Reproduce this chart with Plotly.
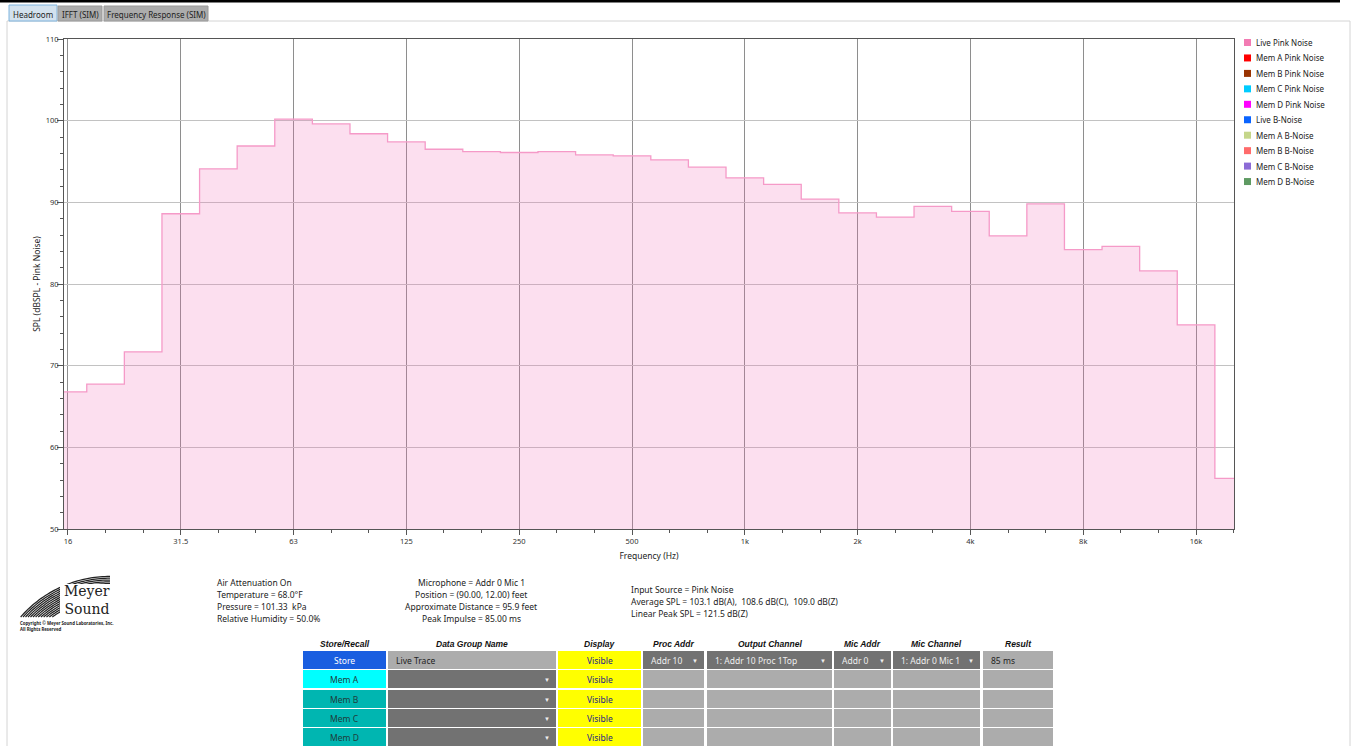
import math
import plotly.graph_objects as go

W, H = 1355, 746

# ---------------- data ----------------
band_labels = ["16", "20", "25", "31.5", "40", "50", "63", "80", "100", "125", "160", "200",
               "250", "315", "400", "500", "630", "800", "1k", "1.25k", "1.6k", "2k", "2.5k",
               "3.15k", "4k", "5k", "6.3k", "8k", "10k", "12.5k", "16k", "20k"]
band_index = list(range(-18, 14))          # 1/3-octave band numbers relative to 1 kHz
spl_db = [66.8, 67.75, 71.7, 88.6, 94.1, 96.9, 100.2, 99.6, 98.4, 97.4, 96.5, 96.2,
          96.1, 96.2, 95.8, 95.7, 95.2, 94.3, 93.0, 92.2, 90.4, 88.7, 88.2,
          89.5, 88.9, 85.9, 89.8, 84.2, 84.6, 81.6, 75.0, 56.2]
major_labels = ["16", "31.5", "63", "125", "250", "500", "1k", "2k", "4k", "8k", "16k"]
major_octaves = list(range(-6, 5))

legend_names = ["Live Pink Noise", "Mem A Pink Noise", "Mem B Pink Noise", "Mem C Pink Noise",
                "Mem D Pink Noise", "Live B-Noise", "Mem A B-Noise", "Mem B B-Noise",
                "Mem C B-Noise", "Mem D B-Noise"]
legend_colors = ["#f27bb3", "#ff0000", "#993300", "#00ccff", "#ff00ff", "#0a64ff",
                 "#c5d68a", "#ff6b6b", "#8c6bd6", "#5e9a62"]

env_lines = ["Air Attenuation On", "Temperature = 68.0°F", "Pressure = 101.33  kPa",
             "Relative Humidity = 50.0%"]
mic_lines = ["Microphone = Addr 0 Mic 1", "Position = (90.00, 12.00) feet",
             "Approximate Distance = 95.9 feet", "Peak Impulse = 85.00 ms"]
src_lines = ["Input Source = Pink Noise",
             "Average SPL = 103.1 dB(A),  108.6 dB(C),  109.0 dB(Z)",
             "Linear Peak SPL = 121.5 dB(Z)"]

table_headers = ["Store/Recall", "Data Group Name", "Display", "Proc Addr", "Output Channel",
                 "Mic Addr", "Mic Channel", "Result"]
store_labels = ["Store", "Mem A", "Mem B", "Mem C", "Mem D"]
row1_values = ["Store", "Live Trace", "Visible", "Addr 10", "1: Addr 10 Proc 1Top",
               "Addr 0", "1: Addr 0 Mic 1", "85 ms"]
tab_labels = ["Headroom", "IFFT (SIM)", "Frequency Response (SIM)"]

# ---------------- derived ----------------
centers = [1000 * 2 ** (n / 3) for n in band_index]
edges = [centers[0] / 2 ** (1 / 6)] + [math.sqrt(a * b) for a, b in zip(centers[:-1], centers[1:])] \
        + [centers[-1] * 2 ** (1 / 6)]
major_vals = [1000 * 2 ** k for k in major_octaves]

FONT = "Noto Sans"


def X(p):
    return p / W


def Y(p):
    return 1 - p / H


fig = go.Figure()
fig.add_trace(go.Scatter(
    x=edges, y=spl_db + [spl_db[-1]], mode="lines",
    line=dict(shape="hv", color="#f59ac8", width=1.3),
    fill="tozeroy", fillcolor="rgba(240,110,180,0.22)",
    showlegend=False, name="Live Pink Noise", hoverinfo="x+y"))

shapes = []
ann = []


def rect(x0, y0, x1, y1, fill, line=None, lw=0):
    shapes.append(dict(type="rect", xref="paper", yref="paper", x0=X(x0), x1=X(x1),
                       y0=Y(y1), y1=Y(y0), fillcolor=fill,
                       line=dict(color=line or fill, width=lw)))


def text(x, y, s, size=8.5, color="#222", anchor="left", bold=False, italic=False,
         family=FONT, bg=None, align="left", pad=1):
    if bold:
        s = "<b>" + s + "</b>"
    if italic:
        s = "<i>" + s + "</i>"
    a = dict(x=X(x), y=Y(y), xref="paper", yref="paper", text=s, showarrow=False,
             xanchor=anchor, yanchor="middle", align=align, borderpad=pad,
             font=dict(size=size, color=color, family=family))
    if bg:
        a["bgcolor"] = bg
    ann.append(a)


# ---- top bar and tabs ----
rect(0, 0, 1340, 2.5, "#000000")
shapes.append(dict(type="line", xref="paper", yref="paper", x0=X(7), x1=X(1350), y0=Y(21), y1=Y(21),
                   line=dict(color="#d4d4d4", width=1)))
shapes.append(dict(type="line", xref="paper", yref="paper", x0=X(7), x1=X(7), y0=Y(21), y1=Y(746),
                   line=dict(color="#d4d4d4", width=1)))
shapes.append(dict(type="line", xref="paper", yref="paper", x0=X(1350), x1=X(1350), y0=Y(21), y1=Y(746),
                   line=dict(color="#d4d4d4", width=1)))
tab_x = [(9, 57), (58, 102), (104, 208)]
for i, (lab, (a, b)) in enumerate(zip(tab_labels, tab_x)):
    if i == 0:
        rect(a, 5, b, 21, "#d3e2ee", "#7fb4de", 1)
    else:
        rect(a, 6, b, 21, "#acacac", "#9a9a9a", 1)
    text((a + b) / 2, 14, lab, size=8, color="#222", anchor="center")

# ---- legend (manual, tight spacing) ----
for i, (nm, c) in enumerate(zip(legend_names, legend_colors)):
    yc = 42.5 + i * 15.45
    rect(1244, yc - 3.5, 1251, yc + 3.5, c)
    text(1254, yc, nm, size=8, color="#222")

# ---- logo ----
cx, cy = 110, 695
for k in range(13):
    r = 97 + k * 1.8
    t0 = 180 - math.degrees(math.asin(78 / r))
    pts = []
    for j in range(41):
        t = math.radians(t0 + (90 - t0) * j / 40)
        pts.append((cx + r * math.cos(t), cy - r * math.sin(t)))
    path = "M " + " L ".join(f"{X(px):.5f},{Y(py):.5f}" for px, py in pts)
    shapes.append(dict(type="path", xref="paper", yref="paper", path=path,
                       line=dict(color="#222222", width=1.25)))
rect(60, 584, 116, 619, "#ffffff")
text(111, 600, "Meyer<br>Sound", size=14, color="#222", anchor="right",
     family="DejaVu Serif", align="right", pad=0)
text(19, 626, "<b>Copyright © Meyer Sound Laboratories, Inc.<br>All Rights Reserved</b>",
     size=4.3, color="#222", pad=0)

# ---- info text ----
for i, s in enumerate(env_lines):
    text(215, 582 + i * 12, s, size=8.5)
for i, s in enumerate(mic_lines):
    text(471, 582 + i * 12, s, size=8.5, anchor="center")
for i, s in enumerate(src_lines):
    text(629, 589 + i * 12, s, size=8.5)

# ---- table ----
col_x = [(303, 386), (388, 556), (558, 641), (643, 704), (707, 832), (834, 891), (893, 980), (983, 1053)]
row_y = [651, 670, 690, 709, 728]
row_h = 18
for (a, b), h in zip(col_x, table_headers):
    text((a + b) / 2, 644, h, size=8.5, color="#111", anchor="center", bold=True, italic=True,
         family="Liberation Sans")

DARK = "#727272"
LIGHT = "#acacac"
for r, y0 in enumerate(row_y):
    y1 = y0 + row_h
    ym = (y0 + y1) / 2
    for c, (a, b) in enumerate(col_x):
        if c == 0:
            fill = "#1a5ee0" if r == 0 else ("#00ffff" if r == 1 else "#00b6b1")
            rect(a, y0, b, y1, fill)
            text((a + b) / 2, ym, store_labels[r], size=8.5,
                 color="#ffffff" if r == 0 else "#1f3b3b", anchor="center")
        elif c == 2:
            rect(a, y0, b, y1, "#ffff00")
            text((a + b) / 2, ym, row1_values[2], size=8.5, color="#23238a", anchor="center")
        elif r == 0:
            dropdown = c in (3, 4, 5, 6)
            rect(a, y0, b, y1, DARK if dropdown else LIGHT)
            text(a + 6, ym, row1_values[c], size=8.5,
                 color="#eeeeee" if dropdown else "#222", anchor="left")
            if dropdown:
                text(b - 9, ym + 1, "▼", size=6, color="#eeeeee", anchor="center")
        else:
            dropdown = c == 1
            rect(a, y0, b, y1, DARK if dropdown else LIGHT)
            if dropdown:
                text(b - 9, ym + 1, "▼", size=6, color="#eeeeee", anchor="center")

fig.update_layout(
    width=W, height=H,
    margin=dict(l=0, r=0, t=0, b=0, pad=0, autoexpand=False),
    paper_bgcolor="white", plot_bgcolor="white",
    font=dict(family=FONT, size=8, color="#333"),
    showlegend=False,
    shapes=shapes, annotations=ann,
    xaxis=dict(
        type="log", domain=[X(64), X(1234)], automargin=False,
        range=[math.log10(15.25), math.log10(20200)],
        tickmode="array", tickvals=major_vals, ticktext=major_labels,
        ticks="outside", ticklen=5, tickcolor="#555", tickwidth=1,
        tickfont=dict(size=7.5, color="#333"),
        showgrid=True, gridcolor="#8e8e8e", gridwidth=1,
        showline=True, linecolor="#555", linewidth=1, mirror=True, zeroline=False,
        minor=dict(tickmode="array", tickvals=centers, ticks="outside", ticklen=3,
                   tickcolor="#555", showgrid=False),
        title=dict(text="Frequency (Hz)", font=dict(size=8.5, color="#222"), standoff=8),
    ),
    yaxis=dict(
        domain=[Y(529), Y(39)], range=[50, 110], automargin=False,
        tickmode="linear", tick0=50, dtick=10,
        ticks="outside", ticklen=6, tickcolor="#555", tickwidth=1,
        tickfont=dict(size=7.5, color="#333"), ticklabelstandoff=-3,
        showgrid=True, gridcolor="#c2c2c2", gridwidth=1,
        showline=True, linecolor="#555", linewidth=1, mirror=True, zeroline=False,
        minor=dict(dtick=2, ticks="outside", ticklen=3, tickcolor="#555", showgrid=False),
        title=dict(text="SPL (dBSPL - Pink Noise)", font=dict(size=8.5, color="#222"), standoff=3),
    ),
)

fig.write_html("out.html", config={"displayModeBar": False},
               post_script="document.body.style.margin='0';document.body.style.overflow='hidden';")
